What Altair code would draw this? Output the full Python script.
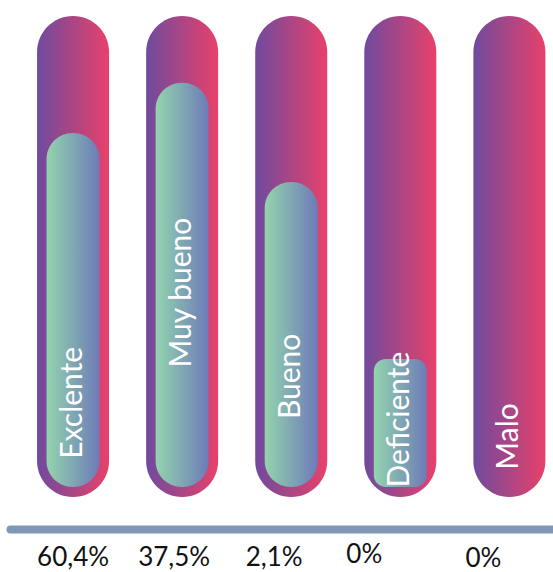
import altair as alt
import pandas as pd

# ---- data ----
categories = ["Exclente", "Muy bueno", "Bueno", "Deficiente", "Malo"]
percent_labels = ["60,4%", "37,5%", "2,1%", "0%", "0%"]
# height reached by the inner (green) fill, on a 0-100 scale of the tube
fill_levels = [75.7, 86.1, 65.5, 28.7, None]
# where each rotated label sits along the tube (same 0-100 scale)
label_levels = [20.0, 42.9, 25.5, 16.5, 13.0]
tube_top = [100] * 5
tube_base = [0] * 5
fill_base = [2.1] * 5

df = pd.DataFrame({
    "cat": categories,
    "pct": percent_labels,
    "level": fill_levels,
    "label_at": label_levels,
    "top": tube_top,
    "base": tube_base,
    "fill_base": fill_base,
})

purple_grad = alt.Gradient(
    gradient="linear",
    stops=[alt.GradientStop(offset=0, color="#6F4A9E"),
           alt.GradientStop(offset=1, color="#E8416B")],
    x1=0, x2=1, y1=0, y2=0,
)
green_grad = alt.Gradient(
    gradient="linear",
    stops=[alt.GradientStop(offset=0, color="#93D4AE"),
           alt.GradientStop(offset=1, color="#6D7BB8")],
    x1=0, x2=1, y1=0, y2=0,
)

cat_list = "[" + ",".join(f"'{c}'" for c in categories) + "]"
pct_list = "[" + ",".join(f"'{p}'" for p in percent_labels) + "]"

xscale = alt.Scale(domain=categories, paddingInner=0.34, paddingOuter=0.159, align=0.78)
yscale = alt.Scale(domain=[0, 100], nice=False, zero=True)

xaxis = alt.Axis(
    title=None,
    orient="bottom",
    offset=32,
    ticks=False,
    tickSize=0,
    grid=False,
    domainWidth=8,
    domainColor="#7F98B8",
    domainCap="round",
    labelExpr=f"{pct_list}[indexof({cat_list}, datum.value)]",
    labelFont="Lato",
    labelFontSize=26,
    labelColor="#111111",
    labelBaseline="alphabetic",
    labelAngle=0,
    labelOverlap=False,
    labelPadding={
        "condition": [
            {"test": "datum.value === 'Deficiente'", "value": 33},
            {"test": "datum.value === 'Malo'", "value": 37},
        ],
        "value": 36,
    },
    labelOffset={
        "condition": [
            {"test": "datum.value === 'Muy bueno'", "value": -8},
            {"test": "datum.value === 'Bueno'", "value": -17},
            {"test": "datum.value === 'Deficiente'", "value": -36},
            {"test": "datum.value === 'Malo'", "value": -26},
        ],
        "value": 0,
    },
)

X = alt.X("cat:N", scale=xscale, axis=xaxis, sort=categories)

tubes = alt.Chart(df).mark_bar(fill=purple_grad, cornerRadius=36).encode(
    x=X,
    y=alt.Y("top:Q", scale=yscale, axis=None),
    y2="base:Q",
)

inner_tall = alt.Chart(df).transform_filter(
    "isValid(datum.level) && datum.level >= 40"
).mark_bar(fill=green_grad, cornerRadius=26, width=53).encode(
    x=X,
    y=alt.Y("level:Q", scale=yscale, axis=None),
    y2="fill_base:Q",
)

inner_short = alt.Chart(df).transform_filter(
    "isValid(datum.level) && datum.level < 40"
).mark_bar(fill=green_grad, cornerRadius=12, width=53).encode(
    x=X,
    y=alt.Y("level:Q", scale=yscale, axis=None),
    y2="fill_base:Q",
)

labels = alt.Chart(df).mark_text(
    angle=270, align="center", baseline="middle",
    color="white", font="Lato", fontSize=30, dx=-2,
).encode(
    x=X,
    y=alt.Y("label_at:Q", scale=yscale, axis=None),
    text="cat:N",
)

chart = alt.layer(tubes, inner_tall, inner_short, labels).properties(
    width=543,
    height=481,
    autosize=alt.AutoSizeParams(type="none"),
    padding={"left": 10, "top": 16, "right": 0, "bottom": 75},
).configure_view(strokeWidth=0)

chart.save("out.html", embed_options={"renderer": "svg", "actions": False})
